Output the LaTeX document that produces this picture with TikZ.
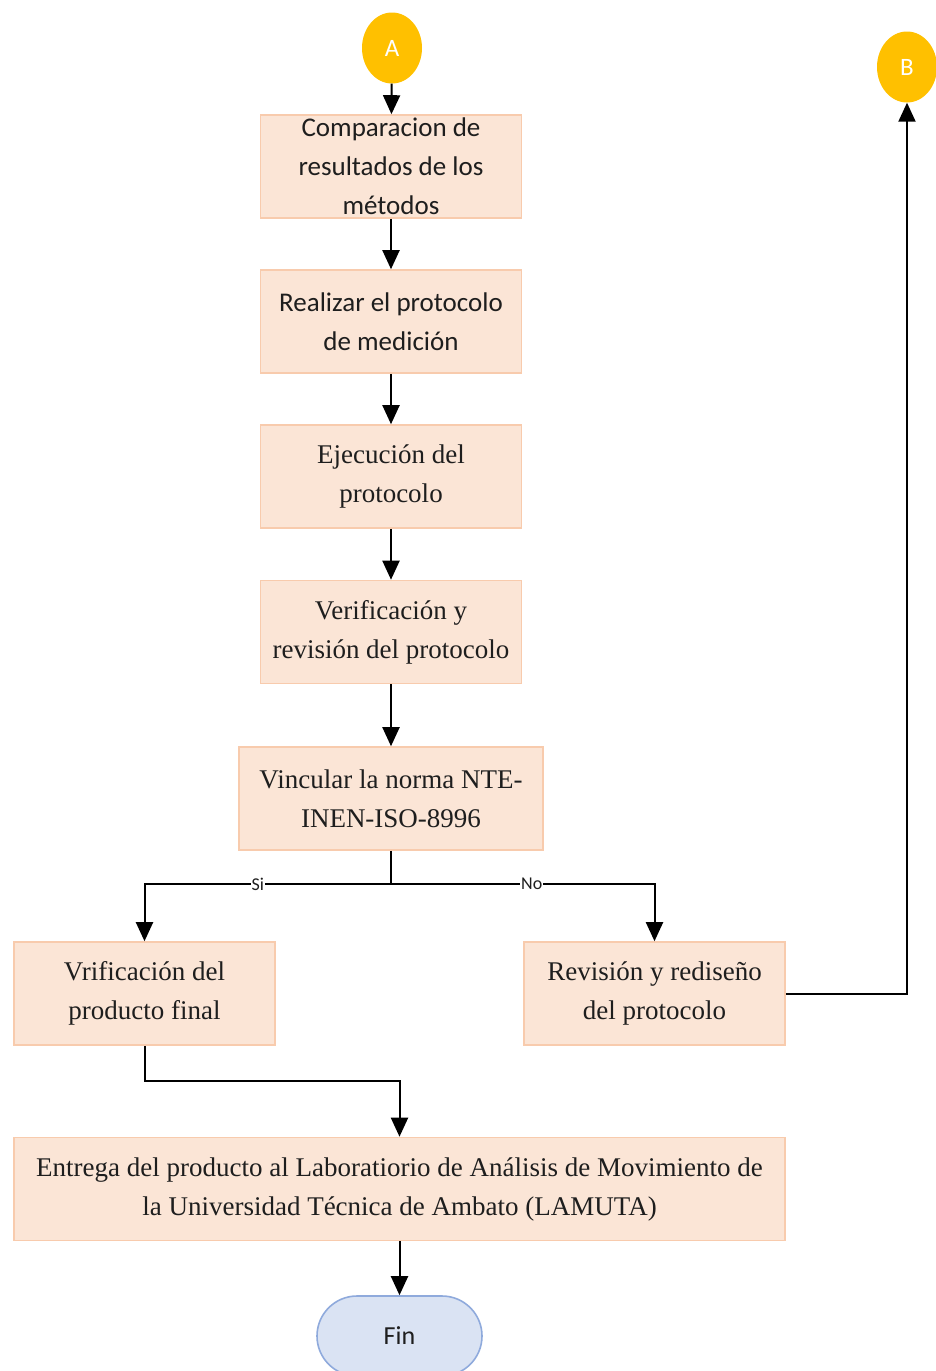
\documentclass[tikz,border=0pt]{standalone}
\usepackage{fontspec}
\setmainfont{Liberation Serif}
\newfontfamily\calibri{Carlito}
\usepackage{tikz}
\usetikzlibrary{arrows.meta,shapes.geometric}
\definecolor{peach}{HTML}{FBE5D6}
\definecolor{peachline}{HTML}{F8CBAD}
\definecolor{gold}{HTML}{FFC000}
\definecolor{bluefill}{HTML}{DAE3F3}
\definecolor{blueline}{HTML}{8FAADC}
\definecolor{ink}{HTML}{1E1E1E}
\tikzset{
  proc/.style={draw=peachline, fill=peach, line width=1.6pt, minimum width=261pt,
    minimum height=103pt, inner sep=0pt, align=center, text=ink,
    font=\fontsize{27}{39}\selectfont},
  procsf/.style={proc, font=\calibri\fontsize{27}{39}\selectfont},
  conn/.style={ellipse, fill=gold, minimum width=60pt, minimum height=71pt, inner sep=0pt,
    text=white, font=\calibri\fontsize{25}{28}\selectfont},
  term/.style={draw=blueline, fill=bluefill, line width=1.6pt, rounded corners=40pt,
    minimum width=165pt, minimum height=80pt, inner sep=0pt, text=ink,
    font=\calibri\fontsize{26}{30}\selectfont},
  arr/.style={draw=black, line width=2pt, -{Triangle[width=17pt,length=19pt]}},
  lbl/.style={fill=white, inner sep=1pt, text=ink, font=\calibri\fontsize{18}{20}\selectfont},
}
\begin{document}
\begin{tikzpicture}[x=1pt,y=-1pt]
  \useasboundingbox (0,0) rectangle (935,1371);
  % conectores
  \node[conn] (A) at (392,48) {A};
  \node[conn] (B) at (907,67) {B};
  % bloques del proceso
  \node[procsf] (comp) at (391,166.5) {Comparacion de\\resultados de los\\métodos};
  \node[procsf] (real) at (391,321.5) {Realizar el protocolo\\de medición};
  \node[proc] (ejec) at (391,476.5) {Ejecución del\\protocolo};
  \node[proc] (veri) at (391,632) {Verificación y\\revisión del protocolo};
  \node[proc, minimum width=304pt] (vinc) at (391,798.5) {Vincular la norma NTE-\\INEN-ISO-8996};
  \node[proc] (vprod) at (144.5,993.5) {Vrificación del\\producto final};
  \node[proc] (redis) at (654.5,993.5) {Revisión y rediseño\\del protocolo};
  \node[proc, minimum width=771pt] (entr) at (399.5,1189) {Entrega del producto al Laboratiorio de Análisis de Movimiento de\\la Universidad Técnica de Ambato (LAMUTA)};
  \node[term] (fin) at (399.5,1336) {Fin};
  \coordinate (split) at (391,884);
  % flechas
  \foreach \a/\b in {A/comp,comp/real,real/ejec,ejec/veri,veri/vinc,entr/fin}
    \draw[arr] (\a) -- (\b);
  \draw[line width=2pt] (vinc.south) -- (split);
  \draw[arr] (split) -| node[lbl, pos=0.27] {Si} (vprod.north);
  \draw[arr] (split) -| node[lbl, pos=0.267] {No} (redis.north);
  \draw[arr] (redis.east) -| (B.south);
  \draw[arr] (vprod.south) -- ++(0,35) -| (entr.north);
\end{tikzpicture}
\end{document}
